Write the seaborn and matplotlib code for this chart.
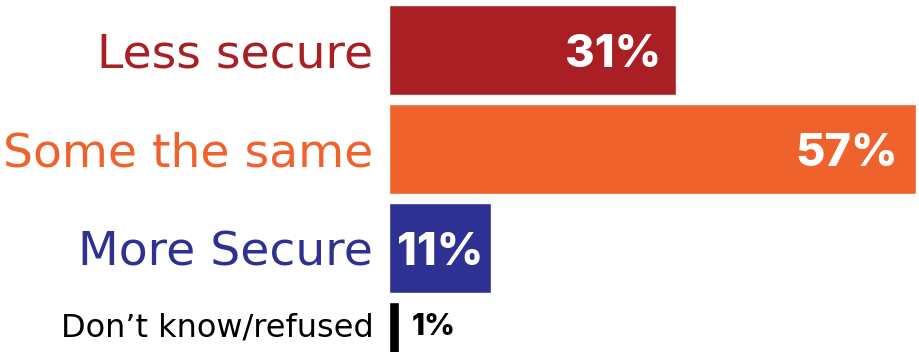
import matplotlib
matplotlib.use("Agg")
import matplotlib.pyplot as plt
import seaborn as sns
import pandas as pd

categories = ["Less secure", "Some the same", "More Secure", "Don\u2019t know/refused"]
values = [31, 57, 11, 1]
value_labels = ["31%", "57%", "11%", "1%"]
colors = ["#A91F24", "#F0622B", "#2E3192", "#000000"]

sns.set_theme(style="white")
plt.rcParams["font.family"] = ["DejaVu Sans"]

df = pd.DataFrame({"category": categories, "value": values})

fig = plt.figure(figsize=(9.2, 3.52), dpi=100)
ax = fig.add_axes([0, 0, 1, 1])

sns.barplot(data=df, x="value", y="category", hue="category",
            palette=colors, hue_order=categories, order=categories,
            orient="h", width=0.909, legend=False, ax=ax, saturation=1)

ax.set_xlim(-42.2, 57.48)
ax.set_ylim(3.05, -0.505)
ax.axis("off")

# the last row is a thinner, lower-set bar
last_bar = ax.containers[3][0]
last_bar.set_y(2.545)
last_bar.set_height(0.6)

label_y = [0, 1, 2, 2.77]
cat_sizes = [34, 34, 34, 23]
for i, (cat, col) in enumerate(zip(categories, colors)):
    ax.text(-1.75, label_y[i], cat, ha="right", va="center_baseline",
            fontsize=cat_sizes[i], color=col, fontweight="normal")

# inner labels sit a little inside the bar end
inner_pad = [1.55, 1.85, 0.85]
pct_font = ["Inter", "DejaVu Sans"]
for i, (v, lab) in enumerate(zip(values, value_labels)):
    if i < 3:
        ax.text(v - inner_pad[i], label_y[i], lab, ha="right", va="center_baseline",
                fontsize=32.5, color="white", fontweight="heavy", family=pct_font)
    else:
        ax.text(v + 1.45, label_y[i], lab, ha="left", va="center_baseline",
                fontsize=21.5, color="black", fontweight="heavy", family=pct_font)

fig.savefig("out.png", dpi=100)
